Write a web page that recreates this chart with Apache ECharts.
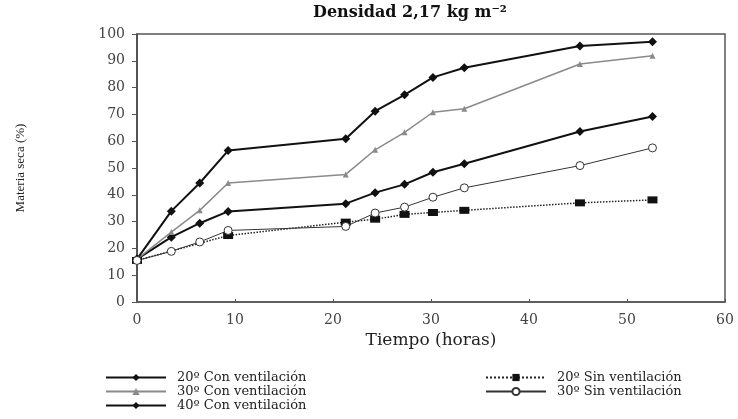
<!DOCTYPE html>
<html>
<head>
<meta charset="utf-8">
<script src="https://cdn.jsdelivr.net/npm/echarts@6/dist/echarts.min.js"></script>
<style>
  html, body { margin: 0; padding: 0; background: #fff; }
  #chart { width: 738px; height: 419px; }
</style>
</head>
<body>
<div id="chart"></div>
<script>
// horas de muestreo
const tiempo = [0, 3.5, 6.4, 9.3, 21.3, 24.3, 27.3, 30.2, 33.4, 45.2, 52.6];
// materia seca (%)
const con20 = [16, 24.2, 29.4, 33.8, 36.7, 40.8, 43.9, 48.4, 51.6, 63.6, 69.2];
const con30 = [16, 26.1, 34.2, 44.4, 47.6, 56.8, 63.3, 70.8, 72.1, 88.8, 91.9];
const con40 = [16, 33.9, 44.4, 56.5, 60.9, 71.2, 77.3, 83.8, 87.4, 95.5, 97.1];
const sin20 = [15.5, null, null, 24.8, 29.8, 30.9, 32.7, 33.4, 34.2, 37.0, 38.1];
const sin30 = [15.5, 18.9, 22.4, 26.7, 28.2, 33.2, 35.4, 39.1, 42.6, 50.9, 57.5];
const yTicks = [0, 10, 20, 30, 40, 50, 60, 70, 80, 90, 100];

const serif = "DejaVu Serif";

function pares(vals) {
  const out = [];
  for (let i = 0; i < tiempo.length; i++) {
    if (vals[i] !== null) out.push([tiempo[i], vals[i]]);
  }
  return out;
}

const legendBase = {
  orient: "vertical",
  top: 371,
  padding: 0,
  itemWidth: 60,
  itemHeight: 9,
  itemGap: 1,
  textStyle: { fontFamily: serif, fontSize: 13, color: "#222", padding: [0, 0, 0, 6] }
};

const chart = echarts.init(document.getElementById("chart"));
const option = {
  animation: false,
  title: {
    text: "Densidad 2,17 kg m\u207B\u00B2",
    left: 313,
    top: 5,
    padding: 0,
    textStyle: { fontFamily: serif, fontSize: 16, fontWeight: "bold", color: "#111" }
  },
  legend: [
    Object.assign({}, legendBase, {
      left: 105,
      data: ["20º Con ventilación", "30º Con ventilación", "40º Con ventilación"]
    }),
    Object.assign({}, legendBase, {
      left: 485,
      data: ["20º Sin ventilación", "30º Sin ventilación"]
    })
  ],
  grid: { left: 137, right: 13, top: 34, bottom: 117 },
  xAxis: {
    type: "value",
    min: 0,
    max: 60,
    interval: 10,
    name: "Tiempo (horas)",
    nameLocation: "middle",
    nameGap: 24,
    nameTextStyle: { fontFamily: serif, fontSize: 17, color: "#222" },
    axisLine: { lineStyle: { color: "#555", width: 1.5 } },
    axisTick: { inside: true, length: 3, lineStyle: { color: "#555" } },
    axisLabel: { fontFamily: serif, fontSize: 14, color: "#444", margin: 11 },
    splitLine: { show: false }
  },
  yAxis: {
    type: "value",
    min: 0,
    max: 100,
    interval: 10,
    name: "Materia seca (%)",
    nameLocation: "middle",
    nameGap: 110,
    nameTextStyle: { fontFamily: "Liberation Serif", fontSize: 13, color: "#222" },
    axisLine: { lineStyle: { color: "#444", width: 1.5 } },
    axisTick: { length: 5, lineStyle: { color: "#555" } },
    axisLabel: {
      fontFamily: serif, fontSize: 14, color: "#444", margin: 12,
      formatter: v => (yTicks.indexOf(v) >= 0 ? v : "")
    },
    splitLine: { show: false }
  },
  series: [
    {
      name: "20º Con ventilación",
      type: "line",
      data: pares(con20),
      symbol: "diamond",
      symbolSize: 9,
      lineStyle: { color: "#111", width: 2 },
      itemStyle: { color: "#111" }
    },
    {
      name: "30º Con ventilación",
      type: "line",
      data: pares(con30),
      symbol: "triangle",
      symbolSize: 6,
      lineStyle: { color: "#8a8a8a", width: 1.5 },
      itemStyle: { color: "#8a8a8a" }
    },
    {
      name: "40º Con ventilación",
      type: "line",
      data: pares(con40),
      symbol: "diamond",
      symbolSize: 9,
      lineStyle: { color: "#111", width: 2 },
      itemStyle: { color: "#111" }
    },
    {
      name: "20º Sin ventilación",
      type: "line",
      data: pares(sin20),
      symbol: "rect",
      symbolSize: [10, 7],
      lineStyle: { color: "#222", width: 1.5, type: "dotted" },
      itemStyle: { color: "#111" }
    },
    {
      name: "30º Sin ventilación",
      type: "line",
      data: pares(sin30),
      symbol: "circle",
      symbolSize: 8,
      lineStyle: { color: "#333", width: 1 },
      itemStyle: { color: "#fff", borderColor: "#333", borderWidth: 1 }
    }
  ],
  graphic: [
    {
      type: "rect",
      shape: { x: 137, y: 34, width: 588, height: 268 },
      style: { fill: "none", stroke: "#555", lineWidth: 1.5 },
      silent: true,
      z: -1
    }
  ]
};
chart.setOption(option);
window.addEventListener("resize", () => chart.resize(), false);
</script>
</body>
</html>
